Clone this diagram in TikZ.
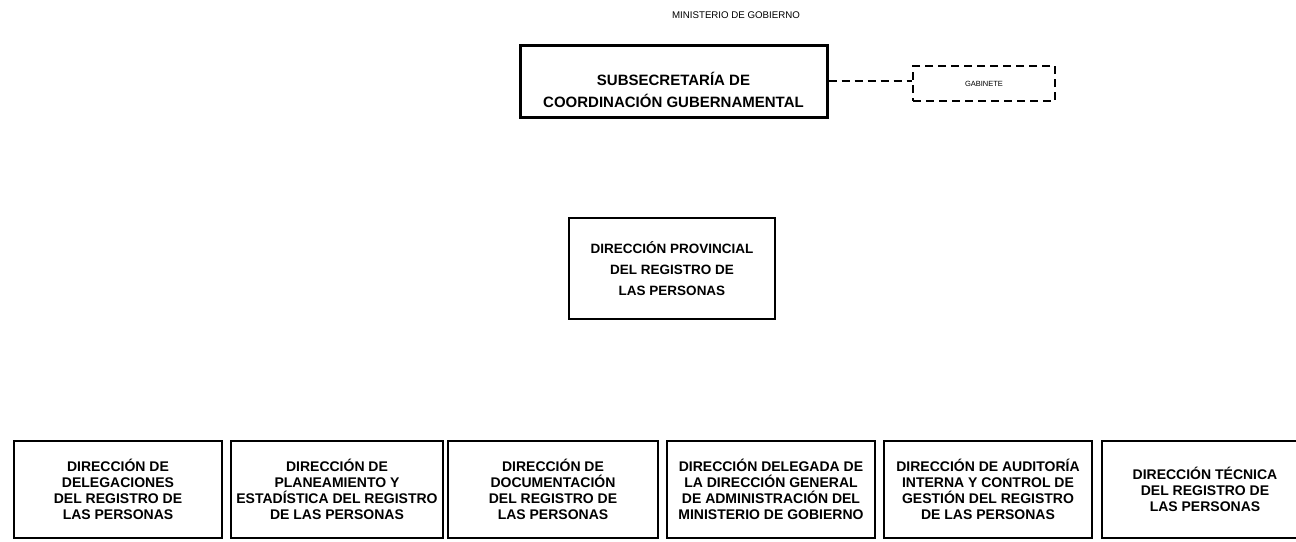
\documentclass[tikz,border=0pt]{standalone}
\usepackage{fontspec}
\setmainfont{Liberation Sans}
\begin{document}
\begin{tikzpicture}[x=1pt,y=-1pt,
  box/.style={draw=black, line width=2pt, rectangle, inner sep=0pt, align=center,
    font=\fontsize{14}{16}\selectfont\bfseries},
  bigbox/.style={draw=black, line width=3pt, rectangle, inner sep=0pt},
  dashbox/.style={draw=black, line width=2.5pt, dash pattern=on 8pt off 5pt, rectangle, inner sep=0pt,
    font=\fontsize{7.5}{9}\selectfont},
  link/.style={draw=black, line width=2pt, dash pattern=on 8pt off 5pt}
]
\useasboundingbox (0,0) rectangle (1296,541);

\node[font=\fontsize{9.7}{11}\selectfont] (min) at (736,15) {MINISTERIO DE GOBIERNO};

\node[bigbox, minimum width=307pt, minimum height=72pt] (subsec) at (673.5,81) {};
\node[align=center, font=\fontsize{15}{22}\selectfont\bfseries] (subsectext) at (673.5,90)
  {SUBSECRETARÍA DE\\COORDINACIÓN GUBERNAMENTAL};

\node[dashbox, minimum width=142pt, minimum height=35pt] (gab) at (984,83.5) {GABINETE};
\draw[link] (subsec.east) -- (subsec.east -| gab.west);

\node[draw=black, line width=2.5pt, rectangle, inner sep=0pt, align=center,
  minimum width=206pt, minimum height=101pt,
  font=\fontsize{13.5}{21}\selectfont\bfseries] (prov) at (672,268.5)
  {DIRECCIÓN PROVINCIAL\\DEL REGISTRO DE\\LAS PERSONAS};

\node[box, minimum width=208pt, minimum height=97pt] (b1) at (118,489.5)
  {DIRECCIÓN DE\\DELEGACIONES\\DEL REGISTRO DE\\LAS PERSONAS};
\node[box, minimum width=212pt, minimum height=97pt] (b2) at (337,489.5)
  {DIRECCIÓN DE\\PLANEAMIENTO Y\\ESTADÍSTICA DEL REGISTRO\\DE LAS PERSONAS};
\node[box, minimum width=210pt, minimum height=97pt] (b3) at (553,489.5)
  {DIRECCIÓN DE\\DOCUMENTACIÓN\\DEL REGISTRO DE\\LAS PERSONAS};
\node[box, minimum width=208pt, minimum height=97pt] (b4) at (771,489.5)
  {DIRECCIÓN DELEGADA DE\\LA DIRECCIÓN GENERAL\\DE ADMINISTRACIÓN DEL\\MINISTERIO DE GOBIERNO};
\node[box, minimum width=208pt, minimum height=97pt] (b5) at (988,489.5)
  {DIRECCIÓN DE AUDITORÍA\\INTERNA Y CONTROL DE\\GESTIÓN DEL REGISTRO\\DE LAS PERSONAS};
\node[box, minimum width=206pt, minimum height=97pt] (b6) at (1205,489.5)
  {DIRECCIÓN TÉCNICA\\DEL REGISTRO DE\\LAS PERSONAS};
\end{tikzpicture}
\end{document}
